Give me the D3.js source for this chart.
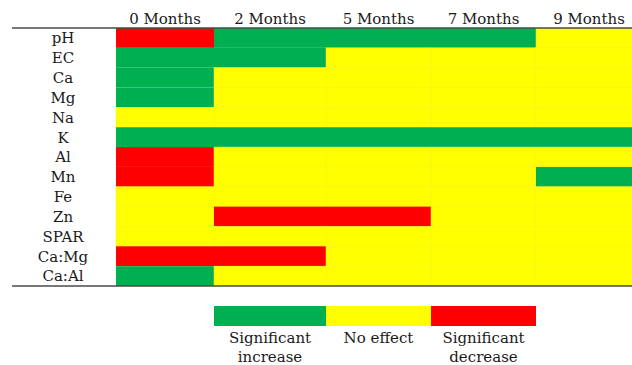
<!DOCTYPE html>
<html>
<head>
<meta charset="utf-8">
<script src="https://cdn.jsdelivr.net/npm/d3@7"></script>
<style>
  html, body { margin: 0; padding: 0; background: #fff; }
  svg { display: block; }
  text { font-family: "DejaVu Serif", "Liberation Serif", serif; fill: #1a1a1a; }
</style>
</head>
<body>
<svg id="chart" width="632" height="365"></svg>
<script>
// Soil properties (rows) and sampling times (columns)
const properties = ["pH", "EC", "Ca", "Mg", "Na", "K", "Al", "Mn", "Fe", "Zn", "SPAR", "Ca:Mg", "Ca:Al"];
const months = ["0 Months", "2 Months", "5 Months", "7 Months", "9 Months"];

// Effect per property, one value per sampling time: 1 = increase, 0 = no effect, -1 = decrease
const effects = [
  [-1,  1,  1,  1,  0], // pH
  [ 1,  1,  0,  0,  0], // EC
  [ 1,  0,  0,  0,  0], // Ca
  [ 1,  0,  0,  0,  0], // Mg
  [ 0,  0,  0,  0,  0], // Na
  [ 1,  1,  1,  1,  1], // K
  [-1,  0,  0,  0,  0], // Al
  [-1,  0,  0,  0,  1], // Mn
  [ 0,  0,  0,  0,  0], // Fe
  [ 0, -1, -1,  0,  0], // Zn
  [ 0,  0,  0,  0,  0], // SPAR
  [-1, -1,  0,  0,  0], // Ca:Mg
  [ 1,  0,  0,  0,  0]  // Ca:Al
];

const legendValues = [1, 0, -1];
const legendLabels = [["Significant", "increase"], ["No effect"], ["Significant", "decrease"]];

const svg = d3.select("#chart");

// Column edges follow the table's uneven column widths
const colEdge = d3.scaleLinear()
  .domain(d3.range(months.length + 1))
  .range([116, 214, 326, 431, 536, 642]);

const y = d3.scaleBand().domain(properties).range([28, 286]);

const color = d3.scaleOrdinal()
  .domain([1, 0, -1])
  .range(["#00B050", "#FFFF00", "#FF0000"]);

const cells = [];
effects.forEach((row, r) => row.forEach((v, c) => cells.push({ prop: properties[r], col: c, v })));

// Heat-map cells
svg.append("g").selectAll("rect")
  .data(cells)
  .join("rect")
  .attr("x", d => colEdge(d.col))
  .attr("y", d => y(d.prop))
  .attr("width", d => colEdge(d.col + 1) - colEdge(d.col))
  .attr("height", y.bandwidth())
  .attr("fill", d => color(d.v))
  .attr("stroke", d => d.v === 0 ? "#f2f21a" : "none")
  .attr("stroke-width", 0.5);

// Column headers
svg.append("g").selectAll("text")
  .data(months)
  .join("text")
  .attr("x", (d, i) => (colEdge(i) + colEdge(i + 1)) / 2)
  .attr("y", 24)
  .attr("text-anchor", "middle")
  .attr("font-size", 15)
  .text(d => d);

// Row labels
svg.append("g").selectAll("text")
  .data(properties)
  .join("text")
  .attr("x", 63)
  .attr("y", d => y(d) + y.bandwidth() / 2)
  .attr("dy", "0.36em")
  .attr("text-anchor", "middle")
  .attr("font-size", 15)
  .text(d => d);

// Table rules
svg.append("line")
  .attr("x1", 12).attr("x2", 632)
  .attr("y1", 28).attr("y2", 28)
  .attr("stroke", "#4a4a4a").attr("stroke-width", 1.5);
svg.append("line")
  .attr("x1", 12).attr("x2", 632)
  .attr("y1", 286).attr("y2", 286)
  .attr("stroke", "#4a4a4a").attr("stroke-width", 1.5);

// Legend aligned under the middle three columns
const legend = svg.append("g");
legend.selectAll("rect")
  .data(legendValues)
  .join("rect")
  .attr("x", (d, i) => colEdge(i + 1))
  .attr("y", 306)
  .attr("width", (d, i) => colEdge(i + 2) - colEdge(i + 1))
  .attr("height", 20)
  .attr("fill", d => color(d));

legend.selectAll("text")
  .data(legendLabels)
  .join("text")
  .attr("x", (d, i) => (colEdge(i + 1) + colEdge(i + 2)) / 2)
  .attr("y", 343)
  .attr("text-anchor", "middle")
  .attr("font-size", 15)
  .selectAll("tspan")
  .data(d => d)
  .join("tspan")
  .attr("x", function () { return d3.select(this.parentNode).attr("x"); })
  .attr("dy", (d, i) => i === 0 ? 0 : 19)
  .text(d => d);
</script>
</body>
</html>
